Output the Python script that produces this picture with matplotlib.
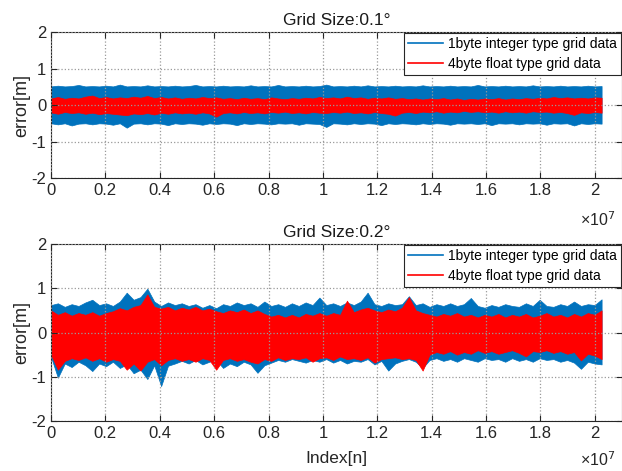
import numpy as np
import matplotlib
matplotlib.use("Agg")
import matplotlib.pyplot as plt
from matplotlib.lines import Line2D

plt.rcParams['font.family'] = ['Liberation Sans', 'DejaVu Sans']

# envelope of the error signal (x in units of 1e7)
x_end = 2.025

# grid size 0.1 deg
b1_hi = [0.51, 0.53, 0.51, 0.52, 0.55, 0.51, 0.52, 0.51, 0.53, 0.51, 0.56, 0.51, 0.52, 0.51,
         0.54, 0.51, 0.52, 0.51, 0.53, 0.51, 0.52, 0.55, 0.51, 0.52, 0.51, 0.53, 0.51, 0.52,
         0.51, 0.54, 0.51, 0.52, 0.51, 0.55, 0.51, 0.52, 0.51, 0.53, 0.51, 0.52, 0.56, 0.51,
         0.52, 0.51, 0.53, 0.51, 0.54, 0.51, 0.52, 0.51, 0.53, 0.51, 0.52, 0.51, 0.54, 0.51,
         0.52, 0.51, 0.53, 0.51, 0.52, 0.51, 0.55, 0.51, 0.52, 0.51, 0.53, 0.51, 0.52, 0.51,
         0.54, 0.51, 0.52, 0.51, 0.53, 0.51, 0.52, 0.51, 0.53, 0.51, 0.52]
b1_lo = [-0.50, -0.53, -0.50, -0.56, -0.51, -0.50, -0.53, -0.50, -0.51, -0.54, -0.50, -0.62,
         -0.51, -0.50, -0.53, -0.50, -0.51, -0.55, -0.50, -0.52, -0.50, -0.51, -0.54, -0.50,
         -0.52, -0.50, -0.51, -0.55, -0.50, -0.52, -0.50, -0.51, -0.53, -0.50, -0.51, -0.50,
         -0.54, -0.50, -0.51, -0.52, -0.60, -0.50, -0.51, -0.53, -0.50, -0.52, -0.50, -0.51,
         -0.55, -0.50, -0.52, -0.50, -0.51, -0.53, -0.50, -0.52, -0.50, -0.51, -0.54, -0.50,
         -0.51, -0.50, -0.52, -0.50, -0.55, -0.50, -0.51, -0.50, -0.53, -0.50, -0.51, -0.50,
         -0.54, -0.50, -0.51, -0.50, -0.56, -0.50, -0.52, -0.50, -0.51]
r1_hi = [0.18, 0.22, 0.17, 0.20, 0.18, 0.23, 0.26, 0.19, 0.22, 0.18, 0.21, 0.19, 0.23, 0.20,
         0.25, 0.19, 0.22, 0.18, 0.21, 0.17, 0.20, 0.18, 0.22, 0.19, 0.21, 0.17, 0.19, 0.16,
         0.20, 0.17, 0.19, 0.16, 0.21, 0.18, 0.16, 0.19, 0.17, 0.20, 0.18, 0.22, 0.19, 0.21,
         0.18, 0.23, 0.19, 0.21, 0.17, 0.20, 0.18, 0.21, 0.17, 0.19, 0.16, 0.18, 0.15, 0.18,
         0.16, 0.19, 0.15, 0.18, 0.14, 0.17, 0.15, 0.18, 0.16, 0.19, 0.15, 0.18, 0.16, 0.19,
         0.17, 0.20, 0.18, 0.22, 0.19, 0.21, 0.18, 0.20, 0.18, 0.21, 0.20]
r1_lo = [-0.20, -0.24, -0.19, -0.22, -0.20, -0.24, -0.21, -0.25, -0.22, -0.24, -0.26, -0.28,
         -0.23, -0.25, -0.22, -0.26, -0.21, -0.24, -0.20, -0.23, -0.21, -0.24, -0.20, -0.23,
         -0.32, -0.22, -0.20, -0.23, -0.19, -0.22, -0.20, -0.23, -0.19, -0.21, -0.18, -0.22,
         -0.20, -0.23, -0.19, -0.21, -0.22, -0.19, -0.21, -0.18, -0.22, -0.20, -0.23, -0.19,
         -0.22, -0.24, -0.29, -0.21, -0.19, -0.22, -0.18, -0.20, -0.17, -0.21, -0.18, -0.20,
         -0.16, -0.19, -0.17, -0.20, -0.18, -0.21, -0.17, -0.20, -0.18, -0.21, -0.17, -0.19,
         -0.18, -0.21, -0.19, -0.22, -0.27, -0.20, -0.22, -0.19, -0.21]

# grid size 0.2 deg
b2_hi = [0.62, 0.66, 0.58, 0.64, 0.60, 0.68, 0.74, 0.62, 0.66, 0.60, 0.70, 0.90, 0.74, 0.80,
         0.99, 0.70, 0.60, 0.68, 0.62, 0.66, 0.60, 0.64, 0.56, 0.62, 0.55, 0.64, 0.60, 0.68,
         0.62, 0.66, 0.58, 0.70, 0.60, 0.64, 0.58, 0.66, 0.60, 0.68, 0.62, 0.79, 0.62, 0.66,
         0.60, 0.68, 0.62, 0.70, 0.90, 0.64, 0.60, 0.66, 0.62, 0.64, 0.82, 0.62, 0.66, 0.58,
         0.64, 0.60, 0.66, 0.60, 0.64, 0.78, 0.60, 0.56, 0.62, 0.58, 0.64, 0.60, 0.58, 0.66,
         0.60, 0.74, 0.60, 0.58, 0.64, 0.60, 0.70, 0.60, 0.64, 0.62, 0.75]
b2_lo = [-0.55, -1.02, -0.70, -0.78, -0.66, -0.74, -0.87, -0.70, -0.76, -0.66, -0.80, -0.72,
         -0.92, -0.84, -1.05, -0.74, -1.21, -0.75, -0.70, -0.64, -0.70, -0.62, -0.72, -0.66,
         -0.62, -0.80, -0.70, -0.76, -0.66, -0.72, -0.91, -0.74, -0.68, -0.62, -0.66, -0.60,
         -0.64, -0.68, -0.62, -0.66, -0.60, -0.68, -0.62, -0.70, -0.64, -0.66, -0.60, -0.72,
         -0.64, -0.86, -0.70, -0.64, -0.60, -0.66, -0.80, -0.62, -0.58, -0.64, -0.60, -0.66,
         -0.58, -0.62, -0.66, -0.58, -0.62, -0.60, -0.66, -0.58, -0.64, -0.60, -0.66, -0.58,
         -0.62, -0.60, -0.66, -0.62, -0.68, -0.82, -0.66, -0.70, -0.72]
r2_hi = [0.50, 0.40, 0.46, 0.38, 0.44, 0.40, 0.46, 0.38, 0.44, 0.48, 0.55, 0.50, 0.58, 0.62,
         0.86, 0.58, 0.54, 0.58, 0.50, 0.56, 0.52, 0.58, 0.50, 0.54, 0.48, 0.44, 0.50, 0.46,
         0.52, 0.44, 0.50, 0.42, 0.36, 0.40, 0.34, 0.40, 0.34, 0.42, 0.38, 0.44, 0.38, 0.44,
         0.40, 0.72, 0.46, 0.52, 0.56, 0.50, 0.46, 0.52, 0.48, 0.56, 0.80, 0.50, 0.44, 0.40,
         0.36, 0.42, 0.38, 0.44, 0.36, 0.40, 0.34, 0.40, 0.36, 0.42, 0.34, 0.40, 0.36, 0.42,
         0.34, 0.38, 0.44, 0.36, 0.40, 0.34, 0.42, 0.36, 0.44, 0.40, 0.50]
r2_lo = [-0.50, -0.84, -0.64, -0.58, -0.62, -0.56, -0.64, -0.58, -0.66, -0.60, -0.64, -0.84,
         -0.70, -0.86, -0.66, -0.60, -0.74, -0.62, -0.58, -0.64, -0.60, -0.66, -0.58, -0.62,
         -0.84, -0.62, -0.58, -0.64, -0.60, -0.66, -0.70, -0.60, -0.64, -0.56, -0.62, -0.58,
         -0.60, -0.56, -0.66, -0.58, -0.56, -0.62, -0.54, -0.60, -0.58, -0.62, -0.56, -0.68,
         -0.60, -0.58, -0.56, -0.60, -0.58, -0.62, -0.86, -0.50, -0.44, -0.48, -0.42, -0.50,
         -0.44, -0.48, -0.40, -0.46, -0.42, -0.48, -0.44, -0.40, -0.46, -0.54, -0.42, -0.44,
         -0.40, -0.46, -0.42, -0.48, -0.44, -0.63, -0.48, -0.52, -0.60]

titles = ["Grid Size:0.1°", "Grid Size:0.2°"]
labels = ["1byte integer type grid data", "4byte float type grid data"]
blue = "#0072BD"
red = "#FF0000"

fig = plt.figure(figsize=(6.22, 4.71), dpi=100)
ax1 = fig.add_axes([0.082, 0.622, 0.918, 0.310])
ax2 = fig.add_axes([0.082, 0.106, 0.918, 0.376])

panels = [(ax1, b1_hi, b1_lo, r1_hi, r1_lo), (ax2, b2_hi, b2_lo, r2_hi, r2_lo)]
for i, (ax, bh, bl, rh, rl) in enumerate(panels):
    x = np.linspace(0, x_end, len(bh)) * 1e7
    ax.fill_between(x, bl, bh, color=blue, lw=0.5, edgecolor=blue)
    ax.fill_between(x, rl, rh, color=red, lw=0.5, edgecolor=red)
    ax.set_xlim(0, 2.1e7)
    ax.set_ylim(-2, 2)
    ax.set_xticks(np.arange(0, 2.01, 0.2) * 1e7)
    ax.set_xticklabels(["0", "0.2", "0.4", "0.6", "0.8", "1", "1.2", "1.4", "1.6", "1.8", "2"])
    ax.set_yticks([-2, -1, 0, 1, 2])
    ax.set_yticklabels(["-2", "-1", "0", "1", "2"])
    ax.tick_params(direction='in', labelsize=12, length=4, width=0.8, top=True, right=True,
                   colors='#262626')
    ax.grid(True, linestyle=':', color='#9a9a9a', linewidth=0.9)
    ax.set_axisbelow(False)
    for s in ax.spines.values():
        s.set_color('#262626')
        s.set_linewidth(0.8)
    ax.set_title(titles[i], fontsize=12.5, pad=5, color='#1a1a1a')
    ax.set_ylabel("error[m]", fontsize=13, labelpad=1, color='#262626')
    handles = [Line2D([], [], color=blue, lw=1.2), Line2D([], [], color=red, lw=1.2)]
    leg = ax.legend(handles, labels, loc='upper right', fontsize=10, frameon=True, fancybox=False,
                    borderaxespad=0.05, handlelength=2.5, handletextpad=0.4, borderpad=0.3,
                    labelspacing=0.45, framealpha=1)
    leg.get_frame().set_edgecolor('#262626')
    leg.get_frame().set_linewidth(0.8)

ax2.set_xlabel("Index[n]", fontsize=12.5, labelpad=7, color='#262626')

fig.text(0.932, 0.533, "×10$^{7}$", fontsize=11.5, color='#262626', ha='left', va='center')
fig.text(0.932, 0.004, "×10$^{7}$", fontsize=11.5, color='#262626', ha='left', va='bottom')

fig.savefig("out.png", dpi=100)
